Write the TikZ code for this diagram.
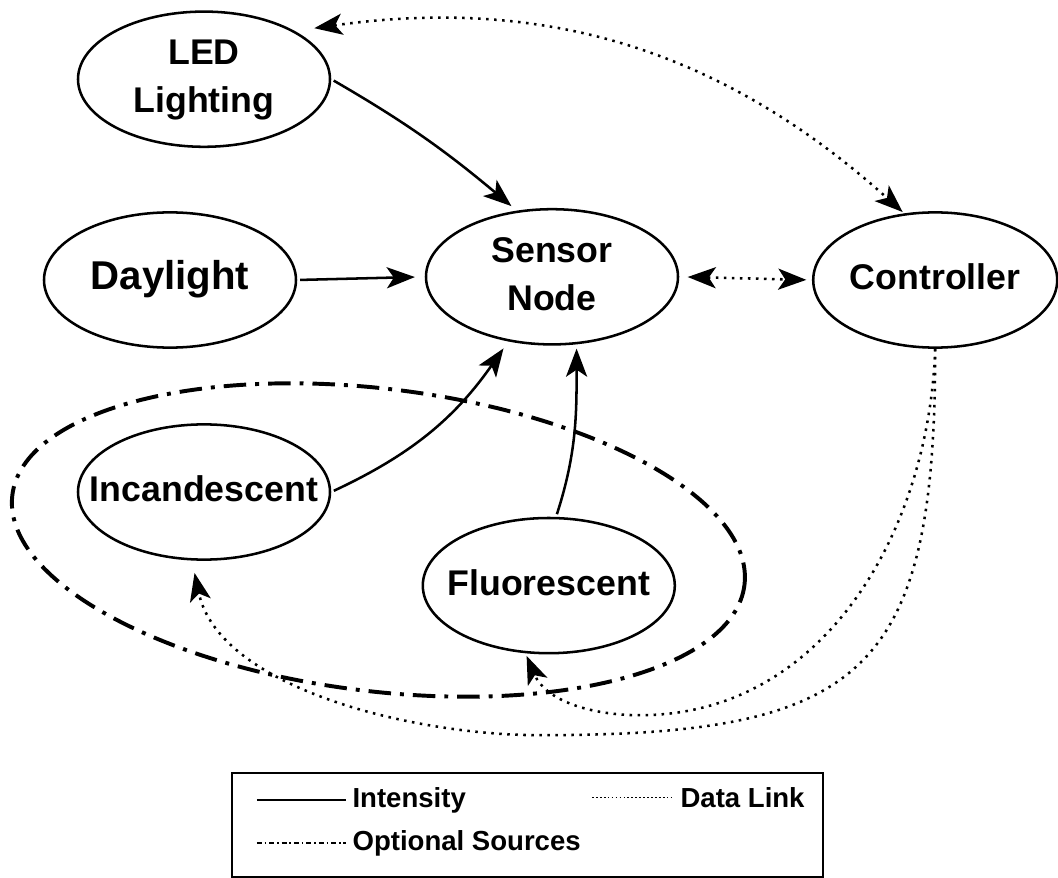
\documentclass[tikz,border=0pt]{standalone}
\usepackage{fontspec}
\setmainfont{Liberation Sans}
\usetikzlibrary{shapes.geometric, arrows.meta}
% testo centrato che non allarga l'ellisse
\newcommand{\ltext}[1]{\makebox[0pt]{\begin{tabular}{@{}c@{}}#1\end{tabular}}}
\tikzset{
  >={Stealth[length=10pt, width=7.5pt, inset=2.5pt]},
  % sorgente di luce / nodo
  lightnode/.style={ellipse, draw, line width=0.9pt, minimum width=3.15cm,
    minimum height=1.69cm, inner xsep=0pt, inner ysep=-1.5pt,
    font=\bfseries\fontsize{12.7}{17}\selectfont},
  % intensita' luminosa
  intensity/.style={->, line width=0.9pt, shorten >=3pt, shorten <=1pt},
  % collegamento dati
  datalink/.style={line width=0.9pt, dash pattern=on 0.9pt off 1.95pt},
  % gruppo delle sorgenti opzionali
  optional/.style={ellipse, draw, line width=1.4pt,
    dash pattern=on 8pt off 3.2pt on 1.4pt off 3.2pt, inner sep=0pt},
  % legenda
  lgd/.style={anchor=west, inner sep=0pt, font=\bfseries\fontsize{9.8}{12}\selectfont},
  sample/.style={line width=0.6pt},
}
\begin{document}
\begin{tikzpicture}
  \useasboundingbox (0,0) rectangle (13.225,-10.975);
  \node[optional, minimum width=9.22cm, minimum height=3.78cm, rotate=-7] (opt) at (4.73,-6.75) {};
  \node[lightnode] (led) at (2.55,-0.99) {\ltext{LED\\Lighting}};
  \node[lightnode, font=\bfseries\fontsize{14.3}{17}\selectfont] (day) at (2.125,-3.5) {\ltext{Daylight}};
  \node[lightnode] (sensor) at (6.9,-3.46) {\ltext{Sensor\\Node}};
  \node[lightnode, minimum width=3.05cm] (ctrl) at (11.69,-3.5) {\ltext{Controller}};
  \node[lightnode] (inc) at (2.55,-6.15) {\ltext{Incandescent}};
  \node[lightnode] (fluo) at (6.86,-7.32) {\ltext{Fluorescent}};
  % intensita'
  \draw[intensity, shorten >=2.5pt] (led.east) to[out=-30, in=140] (sensor.118);
  \draw[intensity, shorten >=3.5pt] (day.east) -- (sensor.west);
  \draw[intensity] (inc.east) to[out=25, in=235] (sensor.236);
  \draw[intensity, shorten >=1.5pt] (fluo.84) to[out=72, in=-90] (sensor.-70);
  % collegamenti dati
  \draw[datalink, <->, shorten <=3pt, shorten >=2pt] (sensor.east) -- (ctrl.west);
  \draw[datalink, <->, shorten <=7pt, shorten >=0.7pt] (led.28) to[out=8, in=138] (ctrl.115);
  \coordinate (dl1) at (6.75,-9.19);
  \coordinate (dl2) at (8.0,-8.94);
  \draw[datalink, ->, shorten >=4.5pt] (ctrl.south) to[out=-90, in=0, looseness=1.5] (dl1)
    to[out=180, in=-78, looseness=0.85] (inc.260);
  \draw[datalink, ->, shorten >=1pt] (ctrl.south) to[out=-92, in=0] (dl2)
    to[out=180, in=-67] (fluo.251);
  % legenda
  \node[draw, line width=0.7pt, minimum width=7.39cm, minimum height=1.3cm,
    anchor=north west] (legend) at (2.8875,-9.65) {};
  \node[lgd] (lint) at (4.4,-10.0) {Intensity};
  \node[lgd] (lopt) at (4.4,-10.54) {Optional Sources};
  \node[lgd] (ldata) at (8.5,-9.97) {Data Link};
  \draw[sample] ([xshift=-11.9mm]lint.west) -- ([xshift=-0.8mm]lint.west);
  \draw[sample, dash pattern=on 1.8pt off 1pt on 0.6pt off 1pt]
    ([xshift=-11.9mm]lopt.west) -- ([xshift=-0.8mm]lopt.west);
  \draw[sample, dash pattern=on 0.6pt off 0.8pt]
    ([xshift=-11mm]ldata.west) -- ([xshift=-0.8mm]ldata.west);
\end{tikzpicture}
\end{document}
